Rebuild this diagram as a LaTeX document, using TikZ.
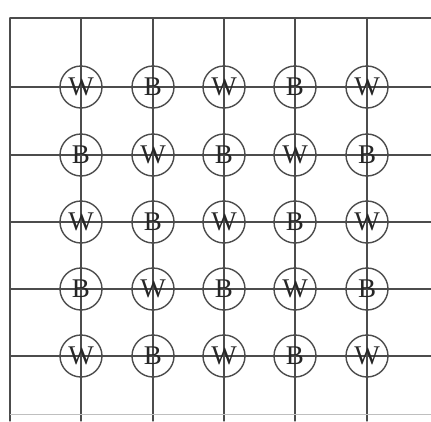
\documentclass[tikz,border=0pt]{standalone}
\usepackage{fontspec}
\setmainfont{Liberation Serif}
\begin{document}
\begin{tikzpicture}[x=1pt,y=-1pt,
  gridline/.style={line width=1.3pt,draw=black!70,line cap=round},
  stone/.style={circle,draw=black!70,line width=1.4pt,minimum size=42pt,inner sep=0pt,
    font=\fontsize{27}{27}\selectfont,text=black!85}]
\useasboundingbox (0,0) rectangle (431,421);
\fill[white] (0,0) rectangle (431,421);
% grid
\foreach \x in {10,81,153,224,295,367} \draw[gridline] (\x,18) -- (\x,421);
\foreach \y in {18,87,155,222,289,356} \draw[gridline] (10,\y) -- (431,\y);
\draw[line width=1pt,draw=black!25] (10,414) -- (431,414);
% stones
\foreach \c [count=\i] in {81,153,224,295,367}
  \foreach \r [count=\j] in {87,155,222,289,356} {
    \pgfmathparse{int(mod(\i+\j,2))}
    \ifnum\pgfmathresult=0
      \node[stone] (s-\i-\j) at (\c,\r) {W};
    \else
      \node[stone] (s-\i-\j) at (\c,\r) {B};
    \fi
  }
\end{tikzpicture}
\end{document}
